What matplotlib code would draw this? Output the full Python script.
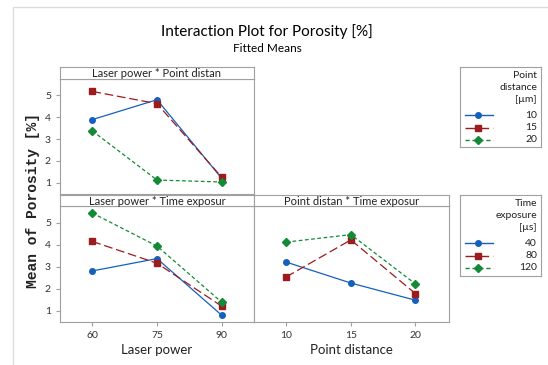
import matplotlib
matplotlib.use('Agg')
import matplotlib.pyplot as plt
from matplotlib.patches import Rectangle

plt.rcParams['font.family'] = ['Lato', 'DejaVu Sans']

laser_power = [60, 75, 90]
point_distance = [10, 15, 20]
time_exposure = [40, 80, 120]

# Laser power * Point distance (one row per point distance)
lp_pd = {
    10: [3.89, 4.80, 1.20],
    15: [5.18, 4.62, 1.25],
    20: [3.37, 1.12, 1.03],
}
# Laser power * Time exposure
lp_te = {
    40: [2.80, 3.36, 0.79],
    80: [4.14, 3.15, 1.20],
    120: [5.43, 3.93, 1.38],
}
# Point distance * Time exposure
pd_te = {
    40: [3.20, 2.25, 1.47],
    80: [2.53, 4.21, 1.77],
    120: [4.11, 4.45, 2.21],
}

colors = ['#1560BD', '#9B1B1E', '#138A36']
styles = ['-', (0, (7, 3)), (0, (3, 2))]
markers = ['o', 's', 'D']
msizes = [4, 4, 3.8]
grey = '#a0a0a0'

W, H = 548, 365
fig = plt.figure(figsize=(W / 100, H / 100), dpi=100)


def box(x0, y0, x1, y1):
    # pixel box (top-left origin) -> figure fraction rect
    return [x0 / W, (H - y1) / H, (x1 - x0) / W, (y1 - y0) / H]


# outer light frame
fig.add_artist(Rectangle((13 / W, -0.1), 1.2, (H - 7) / H + 0.1,
                         transform=fig.transFigure, fill=False,
                         edgecolor='#dcdcdc', lw=1))

fig.text(267 / W, 1 - 32 / H, 'Interaction Plot for Porosity [%]',
         ha='center', va='center', fontsize=11)
fig.text(267 / W, 1 - 49 / H, 'Fitted Means', ha='center', va='center', fontsize=8.5)


def panel(rect, strip, title, xs, data, xlim, xlabel=None, yticks=True):
    ax = fig.add_axes(box(*rect))
    for i, (k, vals) in enumerate(data.items()):
        ax.plot(xs, vals, color=colors[i], linestyle=styles[i], lw=0.9,
                marker=markers[i], markersize=msizes[i])
    ax.set_xlim(*xlim)
    ax.set_ylim(0.48, 5.75)
    for s in ax.spines.values():
        s.set_color(grey)
    ax.tick_params(colors=grey, labelcolor='#333333', labelsize=7.5, length=3)
    ax.set_yticks([1, 2, 3, 4, 5])
    if not yticks:
        ax.tick_params(axis='y', left=False, labelleft=False)
    if xlabel is None:
        ax.tick_params(axis='x', bottom=False, labelbottom=False)
    else:
        ax.set_xticks(xs)
        ax.set_xlabel(xlabel, fontsize=9.5, color='#222222', labelpad=3)
    sa = fig.add_axes(box(*strip))
    sa.set_xticks([])
    sa.set_yticks([])
    for s in sa.spines.values():
        s.set_color(grey)
    sa.text(0.5, 0.45, title, ha='center', va='center', fontsize=8,
            color='#222222', transform=sa.transAxes)
    return ax


panel((60, 79, 254, 194), (60, 67, 254, 79), 'Laser power * Point distan',
      laser_power, lp_pd, (52.5, 97.5))
panel((60, 206, 254, 322), (60, 195, 254, 206), 'Laser power * Time exposur',
      laser_power, lp_te, (52.5, 97.5), xlabel='Laser power')
panel((254, 206, 449, 322), (254, 195, 449, 206), 'Point distan * Time exposur',
      point_distance, pd_te, (7.5, 22.6), xlabel='Point distance', yticks=False)

fig.text(33 / W, 1 - 200 / H, 'Mean of Porosity [%]', rotation=90,
         ha='center', va='center', fontsize=10.5, fontweight='bold',
         family='Liberation Mono', color='#222222')


def legend_box(rect, title_lines, labels):
    la = fig.add_axes(box(*rect))
    la.set_xlim(rect[0], rect[2])
    la.set_ylim(rect[3], rect[1])
    la.set_xticks([])
    la.set_yticks([])
    for s in la.spines.values():
        s.set_color(grey)
    y = rect[1] + 9
    for t in title_lines:
        la.text(rect[2] - 4, y, t, ha='right', va='center', fontsize=7.5, color='#222222')
        y += 12
    y += 3
    for i, lab in enumerate(labels):
        la.plot([rect[0] + 5, rect[0] + 33], [y, y], color=colors[i],
                linestyle=styles[i] if i else '-', lw=1)
        la.plot([rect[0] + 18], [y], color=colors[i], marker=markers[i],
                markersize=msizes[i])
        la.text(rect[2] - 4, y, str(lab), ha='right', va='center', fontsize=7.5,
                color='#222222')
        y += 12.5


legend_box((460, 67, 541, 147), ['Point', 'distance', '[\u00b5m]'], point_distance)
legend_box((460, 195, 541, 276), ['Time', 'exposure', '[\u00b5s]'], time_exposure)

fig.savefig('out.png', dpi=100)
